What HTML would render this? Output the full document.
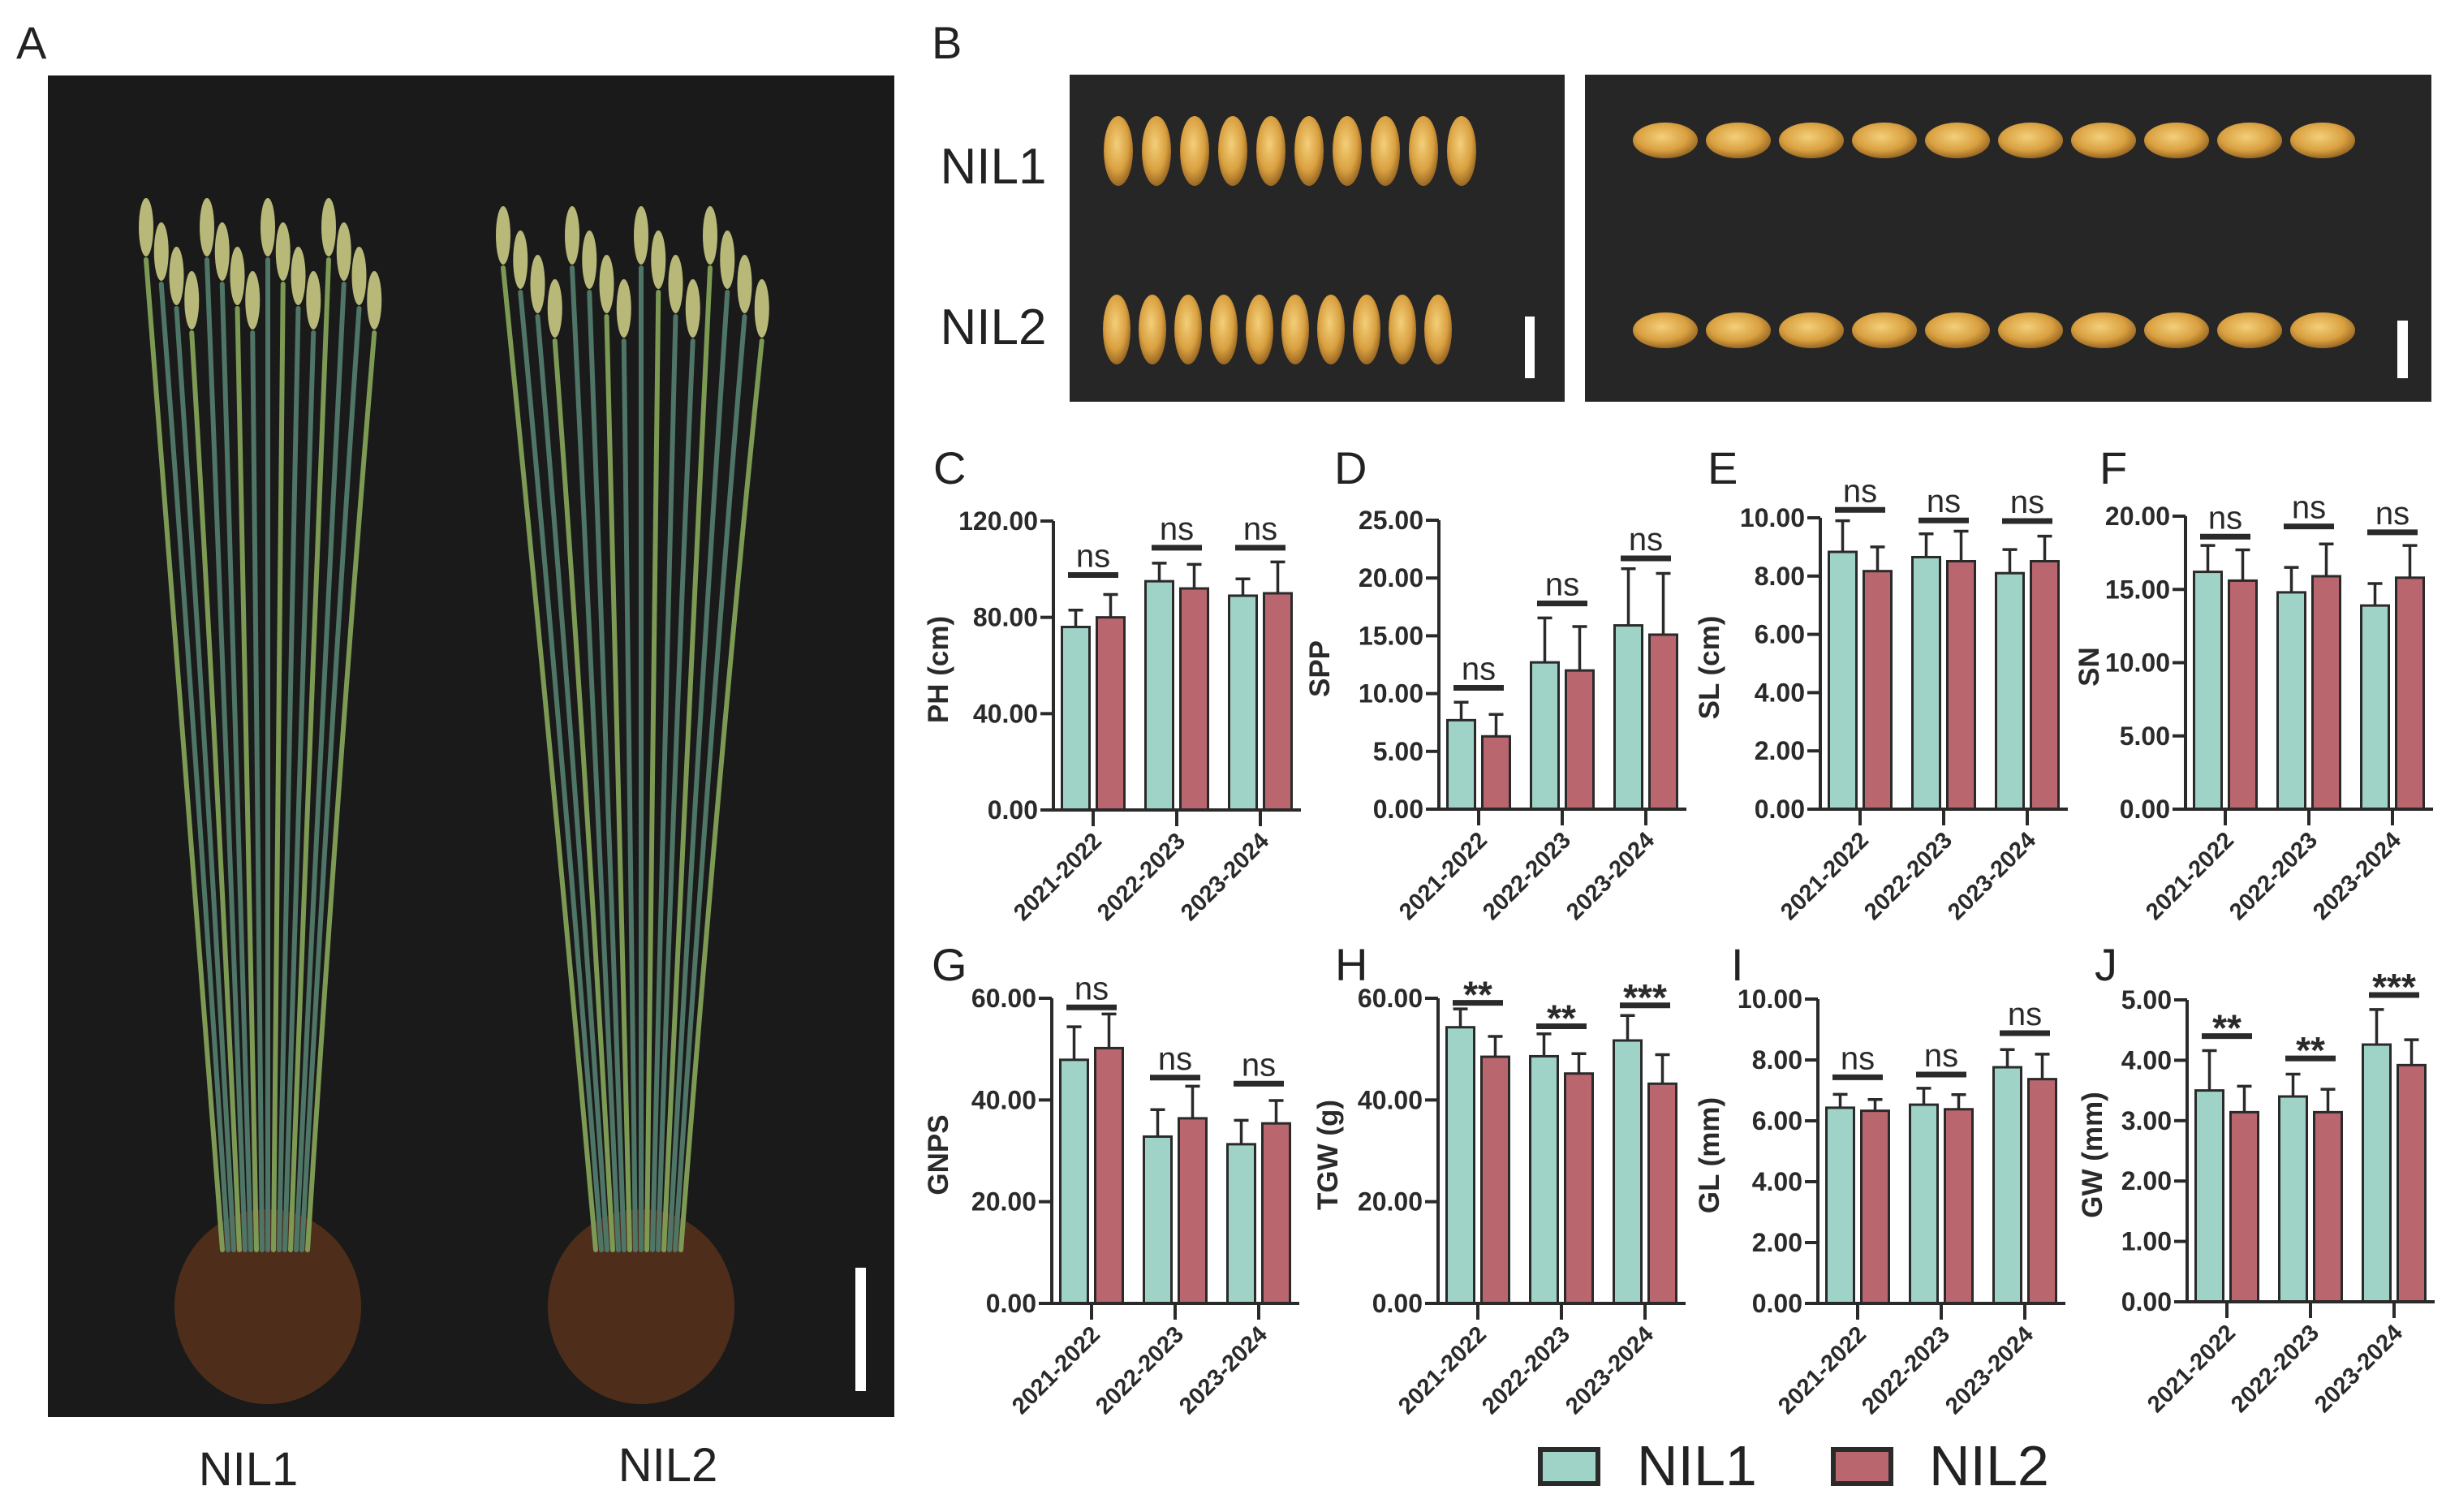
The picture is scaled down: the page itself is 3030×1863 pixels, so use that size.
<!DOCTYPE html>
<html><head><meta charset="utf-8">
<style>
html,body{margin:0;padding:0;background:#fff;}
svg{display:block;font-family:"Liberation Sans",Arial,sans-serif;}
</style></head>
<body>
<svg id="fig" width="3030" height="1863" viewBox="0 0 3030 1863" xmlns="http://www.w3.org/2000/svg">
<defs>
<radialGradient id="grain" cx="45%" cy="40%" r="65%">
<stop offset="0" stop-color="#f3cf7a"/><stop offset="0.6" stop-color="#d9a040"/><stop offset="1" stop-color="#8a5a1c"/>
</radialGradient>
</defs>
<rect width="3030" height="1863" fill="#fff"/>
<!-- Panel A -->
<text x="20" y="72" font-size="56" fill="#222">A</text>
<g>
<rect x="59" y="93" width="1043" height="1653" fill="#1a1a1a"/>
<g id="plants" stroke-linecap="round" fill="none"></g>
<rect x="1054" y="1562" width="13" height="152" fill="#fff"/>
</g>
<text x="306" y="1830" font-size="58" text-anchor="middle" fill="#222">NIL1</text>
<text x="823" y="1825" font-size="58" text-anchor="middle" fill="#222">NIL2</text>
<!-- Panel B -->
<text x="1148" y="72" font-size="56" fill="#222">B</text>
<text x="1224" y="226" font-size="62" text-anchor="middle" fill="#222">NIL1</text>
<text x="1224" y="424" font-size="62" text-anchor="middle" fill="#222">NIL2</text>
<rect x="1318" y="92" width="610" height="403" fill="#262626"/>
<rect x="1953" y="92" width="1043" height="403" fill="#262626"/>
<g id="grains"></g>
<rect x="1879" y="390" width="12" height="76" fill="#fff"/>
<rect x="2954" y="395" width="13" height="71" fill="#fff"/>
<g id="charts"></g>
<!-- Legend -->
<g>
<rect x="1898" y="1786" width="71" height="42" fill="#9fd3c7" stroke="#2a2a2a" stroke-width="6"/>
<text x="2017" y="1830" font-size="70" fill="#222">NIL1</text>
<rect x="2259" y="1786" width="71" height="42" fill="#b9666f" stroke="#2a2a2a" stroke-width="6"/>
<text x="2377" y="1830" font-size="70" fill="#222">NIL2</text>
</g>
</svg>
<script>
const NS="http://www.w3.org/2000/svg";
const categories=["2021-2022","2022-2023","2023-2024"];
// C: PH
const phNil1=[76,95,89], phNil2=[80,92,90], phErr1=[83,102.5,96], phErr2=[89.5,102,103], phSig=["ns","ns","ns"], phSigY=[97.6,108.9,108.9], phTicks=[0,40,80,120];
// D: SPP
const sppNil1=[7.7,12.7,15.9], sppNil2=[6.3,12.0,15.1], sppErr1=[9.25,16.55,20.8], sppErr2=[8.2,15.8,20.4], sppSig=["ns","ns","ns"], sppSigY=[10.5,17.8,21.7], sppTicks=[0,5,10,15,20,25];
// E: SL
const slNil1=[8.83,8.65,8.1], slNil2=[8.17,8.51,8.51], slErr1=[9.9,9.45,8.91], slErr2=[9.0,9.54,9.37], slSig=["ns","ns","ns"], slSigY=[10.27,9.91,9.89], slTicks=[0,2,4,6,8,10];
// F: SN
const snNil1=[16.2,14.8,13.9], snNil2=[15.6,15.9,15.8], snErr1=[18.0,16.5,15.4], snErr2=[17.7,18.1,18.0], snSig=["ns","ns","ns"], snSigY=[18.6,19.3,18.9], snTicks=[0,5,10,15,20];
// G: GNPS
const gnpsNil1=[47.9,32.8,31.3], gnpsNil2=[50.2,36.4,35.4], gnpsErr1=[54.4,38.1,36.0], gnpsErr2=[56.9,42.7,39.9], gnpsSig=["ns","ns","ns"], gnpsSigY=[58.2,44.4,43.2], gnpsTicks=[0,20,40,60];
// H: TGW
const tgwNil1=[54.3,48.6,51.7], tgwNil2=[48.5,45.2,43.2], tgwErr1=[57.9,53.0,56.6], tgwErr2=[52.5,49.1,48.9], tgwSig=["**","**","***"], tgwSigY=[59.1,54.5,58.6], tgwTicks=[0,20,40,60];
// I: GL
const glNil1=[6.43,6.53,7.76], glNil2=[6.33,6.38,7.37], glErr1=[6.87,7.07,8.34], glErr2=[6.7,6.86,8.19], glSig=["ns","ns","ns"], glSigY=[7.43,7.52,8.88], glTicks=[0,2,4,6,8,10];
// J: GW
const gwNil1=[3.50,3.40,4.26], gwNil2=[3.14,3.14,3.92], gwErr1=[4.16,3.77,4.84], gwErr2=[3.57,3.52,4.34], gwSig=["**","**","***"], gwSigY=[4.40,4.03,5.08], gwTicks=[0,1,2,3,4,5];

function mk(tag,attrs,parent,text){const e=document.createElementNS(NS,tag);for(const k in attrs)e.setAttribute(k,attrs[k]);if(text!==undefined)e.textContent=text;parent.appendChild(e);return e;}

const panels=[
 {id:"c",letter:"C",title:"PH (cm)",ax:1298,top:642,zero:998,lx:1150,ly:596,tx:1168,v1:phNil1,v2:phNil2,e1:phErr1,e2:phErr2,sig:phSig,sy:phSigY,ticks:phTicks},
 {id:"d",letter:"D",title:"SPP",ax:1773,top:641,zero:997,lx:1644,ly:596,tx:1638,v1:sppNil1,v2:sppNil2,e1:sppErr1,e2:sppErr2,sig:sppSig,sy:sppSigY,ticks:sppTicks},
 {id:"e",letter:"E",title:"SL (cm)",ax:2243,top:638,zero:997,lx:2104,ly:596,tx:2118,v1:slNil1,v2:slNil2,e1:slErr1,e2:slErr2,sig:slSig,sy:slSigY,ticks:slTicks},
 {id:"f",letter:"F",title:"SN",ax:2693,top:636,zero:997,lx:2587,ly:596,tx:2586,v1:snNil1,v2:snNil2,e1:snErr1,e2:snErr2,sig:snSig,sy:snSigY,ticks:snTicks},
 {id:"g",letter:"G",title:"GNPS",ax:1296,top:1230,zero:1606,lx:1148,ly:1208,tx:1168,v1:gnpsNil1,v2:gnpsNil2,e1:gnpsErr1,e2:gnpsErr2,sig:gnpsSig,sy:gnpsSigY,ticks:gnpsTicks},
 {id:"h",letter:"H",title:"TGW (g)",ax:1772,top:1230,zero:1606,lx:1645,ly:1208,tx:1648,v1:tgwNil1,v2:tgwNil2,e1:tgwErr1,e2:tgwErr2,sig:tgwSig,sy:tgwSigY,ticks:tgwTicks},
 {id:"i",letter:"I",title:"GL (mm)",ax:2240,top:1231,zero:1606,lx:2133,ly:1208,tx:2118,v1:glNil1,v2:glNil2,e1:glErr1,e2:glErr2,sig:glSig,sy:glSigY,ticks:glTicks},
 {id:"j",letter:"J",title:"GW (mm)",ax:2695,top:1232,zero:1604,lx:2581,ly:1208,tx:2590,v1:gwNil1,v2:gwNil2,e1:gwErr1,e2:gwErr2,sig:gwSig,sy:gwSigY,ticks:gwTicks}
];
const charts=document.getElementById('charts');
const ink="#2a2a2a";
panels.forEach(p=>{
 const g=mk('g',{},charts);
 
 
 const max=p.ticks[p.ticks.length-1];
 const y=v=>p.zero-v/max*(p.zero-p.top);
 const cx=i=>p.ax+49+i*103;
 const lt=mk('text',{x:p.lx,y:p.ly,'font-size':56,fill:'#222'},g,p.letter);
 
 
 const yt=mk('text',{x:p.tx,y:(p.top+p.zero)/2+5,'font-size':35,'font-weight':'bold',fill:ink,'text-anchor':'middle',transform:`rotate(-90 ${p.tx} ${(p.top+p.zero)/2+5})`},g,p.title);
 
 
 for(let i=0;i<3;i++){
  [[p.v1,p.e1,'#9fd3c7',-21.5,'nil1'],[p.v2,p.e2,'#b9666f',21.5,'nil2']].forEach(([vals,errs,col,off,nm])=>{
   const bx=cx(i)+off;
   const el=mk('line',{x1:bx,x2:bx,y1:y(vals[i]),y2:y(errs[i]),stroke:ink,'stroke-width':3.5},g);
   
   
   const cap=mk('line',{x1:bx-9,x2:bx+9,y1:y(errs[i]),y2:y(errs[i]),stroke:ink,'stroke-width':3.5},g);
   
   
   const r=mk('rect',{x:bx-17,y:y(vals[i]),width:34,height:p.zero-y(vals[i]),fill:col,stroke:ink,'stroke-width':3},g);
   
   
  });
  const sl=mk('line',{x1:cx(i)-31,x2:cx(i)+31,y1:y(p.sy[i]),y2:y(p.sy[i]),stroke:ink,'stroke-width':7},g);
  
  
  const isStar=p.sig[i].indexOf('*')>=0;
  const st=mk('text',{x:cx(i),y:y(p.sy[i])-(isStar?-6:10),'font-size':isStar?46:40,'text-anchor':'middle',fill:ink,'font-weight':isStar?'bold':'normal'},g,p.sig[i]);
  
  
  const tk=mk('line',{x1:cx(i),x2:cx(i),y1:p.zero,y2:p.zero+20,stroke:ink,'stroke-width':4},g);
  
  
  const lx=cx(i)+12, ly=p.zero+40;
  const xl=mk('text',{x:lx,y:ly,'font-size':29,'font-weight':'bold',fill:ink,'text-anchor':'end',transform:`rotate(-45 ${lx} ${ly})`},g,categories[i]);
  
  
 }
 const ya=mk('line',{x1:p.ax,x2:p.ax,y1:p.top,y2:p.zero+2,stroke:ink,'stroke-width':4},g);
 
 
 const xa=mk('line',{x1:p.ax-16,x2:p.ax+305,y1:p.zero,y2:p.zero,stroke:ink,'stroke-width':4},g);
 
 
 p.ticks.forEach(t=>{
  const tl=mk('line',{x1:p.ax-16,x2:p.ax,y1:y(t),y2:y(t),stroke:ink,'stroke-width':4},g);
  
  
  const tt=mk('text',{x:p.ax-19,y:y(t)+11,'font-size':32,'font-weight':'bold',fill:ink,'text-anchor':'end'},g,t.toFixed(2));
  
  
 });
});

const gr=document.getElementById('grains');
for(let k=0;k<10;k++){
 const a=mk('ellipse',{cx:1378+k*47,cy:186,rx:18,ry:43,fill:'url(#grain)'},gr);
 
 
 const b=mk('ellipse',{cx:1376+k*44,cy:406,rx:17,ry:43,fill:'url(#grain)'},gr);
 
 
 const c=mk('ellipse',{cx:2052+k*90,cy:173,rx:40,ry:22,fill:'url(#grain)'},gr);
 
 
 const d=mk('ellipse',{cx:2052+k*90,cy:407,rx:40,ry:22,fill:'url(#grain)'},gr);
 
 
}
const pl=document.getElementById('plants');
function plant(x0,spread,topY){
 const r=mk('ellipse',{cx:x0,cy:1610,rx:115,ry:120,fill:'#7a3f1e',opacity:0.55},pl);
 
 
 for(let k=0;k<16;k++){
  const bx=x0+(k-8)*7, tx=x0+(k-8)*spread/8;
  const s=mk('path',{d:`M${bx} 1540 Q${(bx+tx)/2} 900 ${tx} ${topY+(k%4)*30+40}`,stroke:k%3?'#4f7566':'#7d9a55','stroke-width':6},pl);
  
  
  const e=mk('ellipse',{cx:tx,cy:topY+(k%4)*30,rx:9,ry:36,fill:'#b8b878'},pl);
  
  
 }
}
plant(330,150,280);
plant(790,170,290);
</script>
</body></html>
